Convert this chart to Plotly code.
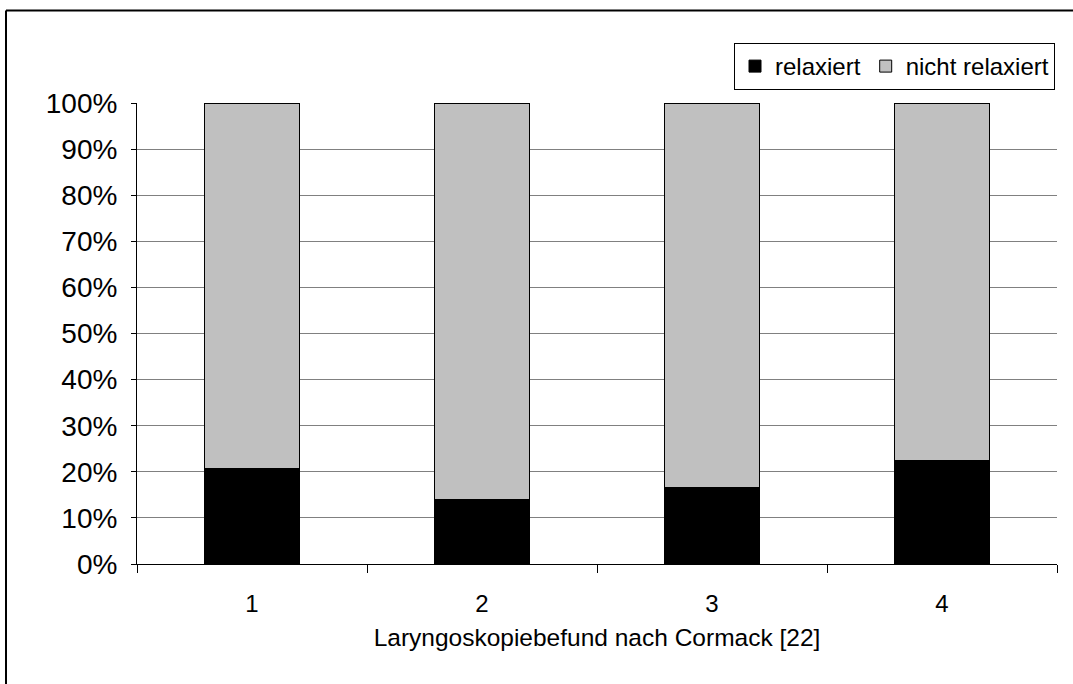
import plotly.graph_objects as go

categories = ["1", "2", "3", "4"]
relaxiert = [20.8, 14.1, 16.6, 22.4]
nicht_relaxiert = [100 - v for v in relaxiert]
y_ticks = [0, 10, 20, 30, 40, 50, 60, 70, 80, 90, 100]
y_tick_labels = [f"{v}%" for v in y_ticks]

FONT = "Liberation Sans, Arial, sans-serif"

fig = go.Figure()
fig.add_trace(go.Bar(x=categories, y=relaxiert, name="relaxiert",
                     marker=dict(color="#000000", line=dict(color="#000000", width=1))))
fig.add_trace(go.Bar(x=categories, y=nicht_relaxiert, name="nicht relaxiert",
                     marker=dict(color="#c0c0c0", line=dict(color="#000000", width=1))))

L, R, T, B = 137, 16, 103, 120
W, H = 1073, 684
pw, ph = W - L - R, H - T - B

def px_x(x):
    return (x - L) / pw

def px_y(y):
    return (H - B - y) / ph

fig.update_layout(
    width=W, height=H,
    barmode="stack", bargap=0.59,
    margin=dict(l=L, r=R, t=T, b=B),
    paper_bgcolor="white", plot_bgcolor="white",
    font=dict(family=FONT, size=24, color="black"),
    showlegend=True,
    legend=dict(orientation="h", x=px_x(1055), y=px_y(43), xanchor="right", yanchor="top",
                traceorder="normal", bgcolor="white", bordercolor="#000000", borderwidth=1,
                font=dict(size=24), itemwidth=30),
    xaxis=dict(showline=True, linecolor="#000000", linewidth=1, ticks="outside",
               tickson="boundaries", ticklen=8, tickcolor="#000000",
               title=dict(text="Laryngoskopiebefund nach Cormack [22]", font=dict(size=24.5), standoff=13),
               tickfont=dict(size=24), ticklabelstandoff=18),
    yaxis=dict(range=[0, 100], tickvals=y_ticks, ticktext=y_tick_labels,
               showline=True, linecolor="#000000", linewidth=1, ticks="outside", ticklen=5,
               tickcolor="#000000", showgrid=True, gridcolor="#808080", gridwidth=1,
               zeroline=False, tickfont=dict(size=28), ticklabelstandoff=8),
    shapes=[
        dict(type="line", xref="paper", yref="paper", x0=px_x(6), x1=px_x(1080),
             y0=px_y(10.5), y1=px_y(10.5), line=dict(color="black", width=2)),
        dict(type="line", xref="paper", yref="paper", x0=px_x(6), x1=px_x(6),
             y0=px_y(10.5), y1=px_y(690), line=dict(color="black", width=2)),
    ],
)

fig.write_html("out.html")
